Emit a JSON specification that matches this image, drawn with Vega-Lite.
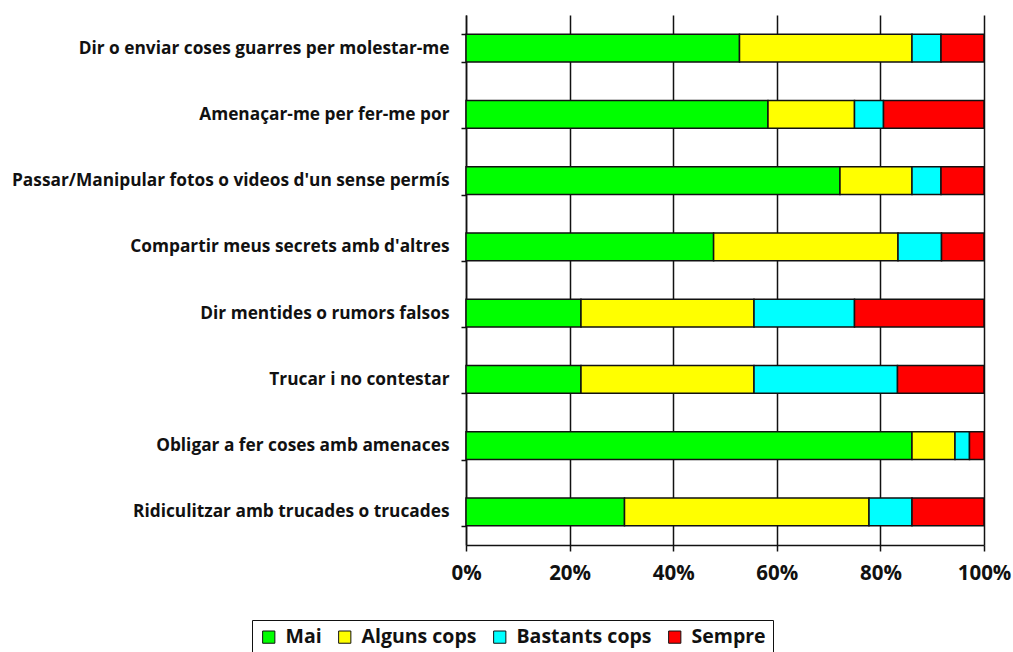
{
  "$schema": "https://vega.github.io/schema/vega-lite/v6.json",
  "autosize": {"type": "none"},
  "padding": {"left": 466, "top": 15, "right": 29, "bottom": 107},
  "width": 518,
  "height": 530,
  "background": "white",
  "config": {
    "view": {"stroke": null},
    "font": "Open Sans"
  },
  "data": {
    "values": [
      {"cat": "Dir o enviar coses guarres per molestar-me", "resp": "Mai", "o": 1, "v": 52.8},
      {"cat": "Dir o enviar coses guarres per molestar-me", "resp": "Alguns cops", "o": 2, "v": 33.3},
      {"cat": "Dir o enviar coses guarres per molestar-me", "resp": "Bastants cops", "o": 3, "v": 5.6},
      {"cat": "Dir o enviar coses guarres per molestar-me", "resp": "Sempre", "o": 4, "v": 8.3},
      {"cat": "Amenaçar-me per fer-me por", "resp": "Mai", "o": 1, "v": 58.3},
      {"cat": "Amenaçar-me per fer-me por", "resp": "Alguns cops", "o": 2, "v": 16.7},
      {"cat": "Amenaçar-me per fer-me por", "resp": "Bastants cops", "o": 3, "v": 5.6},
      {"cat": "Amenaçar-me per fer-me por", "resp": "Sempre", "o": 4, "v": 19.4},
      {"cat": "Passar/Manipular fotos o videos d'un sense permís", "resp": "Mai", "o": 1, "v": 72.2},
      {"cat": "Passar/Manipular fotos o videos d'un sense permís", "resp": "Alguns cops", "o": 2, "v": 13.9},
      {"cat": "Passar/Manipular fotos o videos d'un sense permís", "resp": "Bastants cops", "o": 3, "v": 5.6},
      {"cat": "Passar/Manipular fotos o videos d'un sense permís", "resp": "Sempre", "o": 4, "v": 8.3},
      {"cat": "Compartir meus secrets amb d'altres", "resp": "Mai", "o": 1, "v": 47.8},
      {"cat": "Compartir meus secrets amb d'altres", "resp": "Alguns cops", "o": 2, "v": 35.6},
      {"cat": "Compartir meus secrets amb d'altres", "resp": "Bastants cops", "o": 3, "v": 8.4},
      {"cat": "Compartir meus secrets amb d'altres", "resp": "Sempre", "o": 4, "v": 8.2},
      {"cat": "Dir mentides o rumors falsos", "resp": "Mai", "o": 1, "v": 22.2},
      {"cat": "Dir mentides o rumors falsos", "resp": "Alguns cops", "o": 2, "v": 33.4},
      {"cat": "Dir mentides o rumors falsos", "resp": "Bastants cops", "o": 3, "v": 19.4},
      {"cat": "Dir mentides o rumors falsos", "resp": "Sempre", "o": 4, "v": 25.0},
      {"cat": "Trucar i no contestar", "resp": "Mai", "o": 1, "v": 22.2},
      {"cat": "Trucar i no contestar", "resp": "Alguns cops", "o": 2, "v": 33.4},
      {"cat": "Trucar i no contestar", "resp": "Bastants cops", "o": 3, "v": 27.7},
      {"cat": "Trucar i no contestar", "resp": "Sempre", "o": 4, "v": 16.7},
      {"cat": "Obligar  a fer coses amb amenaces", "resp": "Mai", "o": 1, "v": 86.1},
      {"cat": "Obligar  a fer coses amb amenaces", "resp": "Alguns cops", "o": 2, "v": 8.3},
      {"cat": "Obligar  a fer coses amb amenaces", "resp": "Bastants cops", "o": 3, "v": 2.8},
      {"cat": "Obligar  a fer coses amb amenaces", "resp": "Sempre", "o": 4, "v": 2.8},
      {"cat": "Ridiculitzar amb trucades o trucades", "resp": "Mai", "o": 1, "v": 30.6},
      {"cat": "Ridiculitzar amb trucades o trucades", "resp": "Alguns cops", "o": 2, "v": 47.2},
      {"cat": "Ridiculitzar amb trucades o trucades", "resp": "Bastants cops", "o": 3, "v": 8.3},
      {"cat": "Ridiculitzar amb trucades o trucades", "resp": "Sempre", "o": 4, "v": 13.9}
    ]
  },
  "mark": {"type": "bar", "stroke": "#111111", "strokeWidth": 1.5},
  "encoding": {
    "y": {
      "field": "cat",
      "type": "nominal",
      "sort": null,
      "title": null,
      "scale": {"paddingInner": 0.58, "paddingOuter": 0.29},
      "axis": {
        "tickBand": "extent",
        "domainColor": "#111111",
        "domainWidth": 1.5,
        "tickColor": "#111111",
        "tickWidth": 1.5,
        "tickSize": 5,
        "labelFontWeight": "bold",
        "labelFontSize": 17.3,
        "labelColor": "#111111",
        "labelPadding": 12,
        "labelLimit": 466
      }
    },
    "x": {
      "field": "v",
      "type": "quantitative",
      "stack": "normalize",
      "title": null,
      "scale": {"domain": [0, 1], "nice": false},
      "axis": {
        "format": ".0%",
        "values": [0, 0.2, 0.4, 0.6, 0.8, 1],
        "grid": true,
        "gridColor": "#111111",
        "gridWidth": 1.5,
        "domainColor": "#111111",
        "domainWidth": 1.5,
        "tickColor": "#111111",
        "tickWidth": 1.5,
        "tickSize": 6,
        "labelFontWeight": "bold",
        "labelFontSize": 20.5,
        "labelColor": "#111111",
        "labelPadding": 12,
        "labelFlush": false
      }
    },
    "order": {"field": "o", "type": "quantitative"},
    "color": {
      "field": "resp",
      "type": "nominal",
      "title": null,
      "scale": {
        "domain": ["Mai", "Alguns cops", "Bastants cops", "Sempre"],
        "range": ["#00FF00", "#FFFF00", "#00FFFF", "#FF0000"]
      },
      "legend": {
        "orient": "none",
        "legendX": -214,
        "legendY": 605,
        "direction": "horizontal",
        "symbolType": "square",
        "symbolSize": 150,
        "symbolStrokeColor": "#111111",
        "symbolStrokeWidth": 1,
        "labelFontWeight": "bold",
        "labelFontSize": 19.5,
        "labelColor": "#111111",
        "labelOffset": 7,
        "columnPadding": 13,
        "strokeColor": "#111111",
        "fillColor": "white",
        "padding": 7
      }
    }
  }
}
